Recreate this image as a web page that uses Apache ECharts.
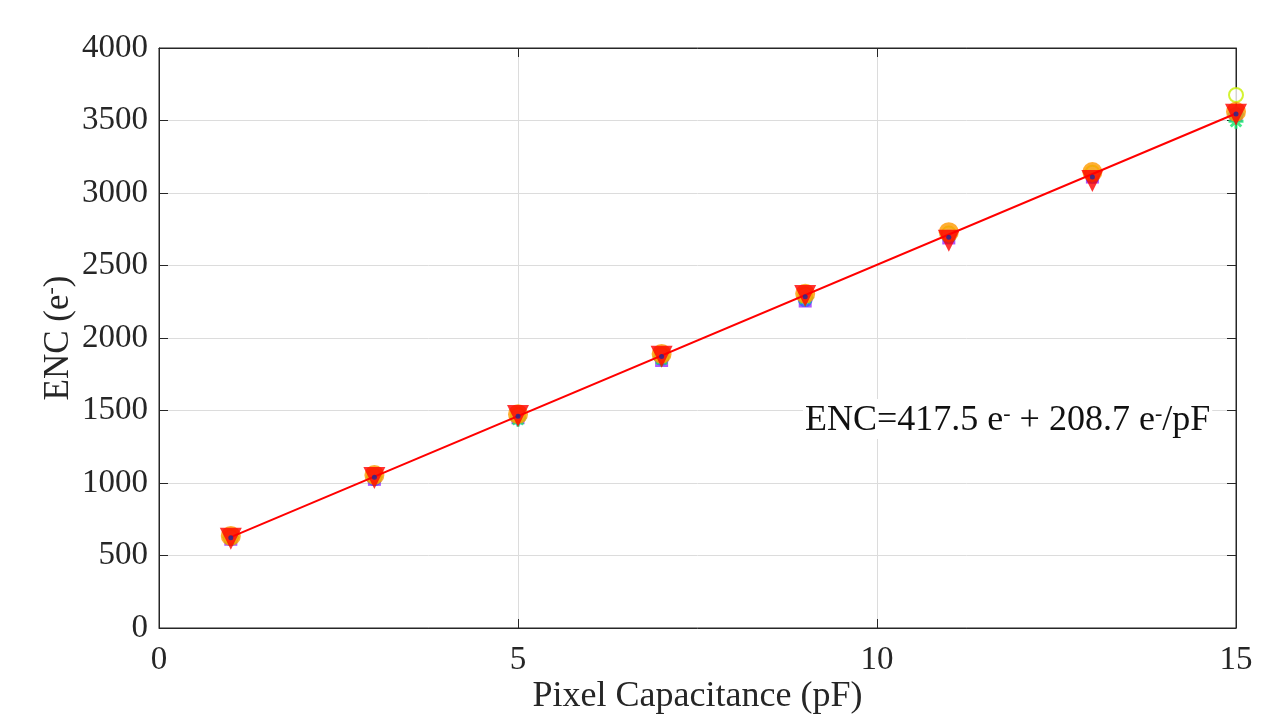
<!DOCTYPE html>
<html>
<head>
<meta charset="utf-8">
<script src="https://cdn.jsdelivr.net/npm/echarts@6/dist/echarts.min.js"></script>
<style>
  html, body { margin: 0; padding: 0; background: #fff; }
  #chart { width: 1285px; height: 718px; }
</style>
</head>
<body>
<div id="chart"></div>
<script>
const capacitance = [1, 3, 5, 7, 9, 11, 13, 15]

// ENC per readout channel (e-)
const encPurple = [612, 1025, 1450, 1845, 2255, 2690, 3110, 3535]
const encBlue = [618, 1030, 1455, 1860, 2265, 2700, 3115, 3540]
const encCyan = [625, 1040, 1448, 1870, 2280, 2712, 3132, 3545]
const encGreen = [620, 1045, 1440, 1855, 2275, 2705, 3125, 3495]
const encLime = [630, 1050, 1470, 1885, 2300, 2720, 3140, 3676]
const encOrange = [635, 1055, 1475, 1890, 2305, 2730, 3145, 3560]
const encRed = [615, 1035, 1462, 1870, 2290, 2670, 3083, 3540]
const encNavy = [622, 1040, 1460, 1872, 2285, 2695, 3110, 3545]

// linear fit end points
const fitX = [1, 15]
const fitY = [626.2, 3548]

const xTicks = [0, 5, 10, 15]
const yTicks = [0, 500, 1000, 1500, 2000, 2500, 3000, 3500, 4000]

const font = '"Liberation Serif", "Times New Roman", serif'
const ink = '#262626'

function pairs(ys) {
  return capacitance.map((x, i) => [x, ys[i]])
}

const asterisk = 'path://M0,-10L0,10M-10,0L10,0M-7,-7L7,7M-7,7L7,-7'

function scatter(name, ys, opts) {
  return Object.assign({
    name,
    type: 'scatter',
    data: pairs(ys),
    symbolSize: 14
  }, opts)
}

// mirrored tick-only axes for the top and right edges of the box
const mirrorTicks = { inside: true, length: 9, lineStyle: { color: ink } }
const mirrorLine = { show: true, onZero: false, lineStyle: { color: ink } }

const chart = echarts.init(document.getElementById('chart'))
chart.setOption({
  animation: false,
  grid: {
    left: 159, right: 49, top: 48, bottom: 90,
    containLabel: false, outerBoundsMode: 'none',
    show: true, borderColor: ink, borderWidth: 1
  },
  xAxis: [{
    type: 'value', min: 0, max: 15, interval: 5,
    name: 'Pixel Capacitance (pF)', nameLocation: 'middle', nameGap: 51,
    nameMoveOverlap: false,
    nameTextStyle: { fontFamily: font, fontSize: 36, color: ink },
    axisLine: { show: true, onZero: false, lineStyle: { color: ink } },
    axisTick: { inside: true, length: 9, lineStyle: { color: ink } },
    axisLabel: {
      fontFamily: font, fontSize: 33, color: ink, margin: 16,
      formatter: v => xTicks.includes(v) ? String(v) : ''
    },
    splitLine: { show: true, lineStyle: { color: '#dcdcdc', width: 1 } }
  }, {
    type: 'value', min: 0, max: 15, interval: 5, position: 'top',
    axisLine: mirrorLine,
    axisTick: mirrorTicks, axisLabel: { show: false }, splitLine: { show: false }
  }],
  yAxis: [{
    type: 'value', min: 0, max: 4000, interval: 500,
    name: 'ENC (e{sup|-})', nameLocation: 'middle', nameGap: 81,
    nameMoveOverlap: false,
    nameTextStyle: {
      fontFamily: font, fontSize: 35, color: ink,
      rich: { sup: { fontFamily: font, fontSize: 22, color: ink, verticalAlign: 'top', padding: [0, 0, 16, 0] } }
    },
    axisLine: { show: true, onZero: false, lineStyle: { color: ink } },
    axisTick: { inside: true, length: 9, lineStyle: { color: ink } },
    axisLabel: {
      fontFamily: font, fontSize: 33, color: ink, margin: 11,
      formatter: v => yTicks.includes(v) ? String(v) : ''
    },
    splitLine: { show: true, lineStyle: { color: '#dcdcdc', width: 1 } }
  }, {
    type: 'value', min: 0, max: 4000, interval: 500, position: 'right',
    axisLine: mirrorLine,
    axisTick: mirrorTicks, axisLabel: { show: false }, splitLine: { show: false }
  }],
  graphic: [{
    type: 'text',
    left: 803, top: 399,
    z: 10,
    style: {
      text: 'ENC=417.5 e{s|-} + 208.7 e{s|-}/pF',
      font: '36px ' + font,
      fill: '#111',
      backgroundColor: '#fff',
      padding: [4, 2, 0, 2],
      rich: {
        s: { font: '22px ' + font, fill: '#111', verticalAlign: 'top', padding: [0, 0, 14, 0] }
      }
    }
  }],
  series: [
    scatter('purple', encPurple, { symbol: 'rect', symbolSize: 13, itemStyle: { color: '#9d2bff' } }),
    scatter('blue', encBlue, { symbol: 'circle', symbolSize: 15, itemStyle: { color: '#3a5cff' } }),
    scatter('cyan', encCyan, { symbol: 'diamond', symbolSize: 18, itemStyle: { color: '#22d3ff' } }),
    scatter('green', encGreen, { symbol: asterisk, symbolSize: 15, itemStyle: { color: 'transparent', borderColor: '#12e86a', borderWidth: 3 } }),
    scatter('lime', encLime, { symbol: 'emptyCircle', symbolSize: 14, itemStyle: { color: '#c8f000', borderColor: '#c8f000', borderWidth: 4 } }),
    scatter('orange', encOrange, { symbol: 'circle', symbolSize: 20, itemStyle: { color: '#ff9a00' } }),
    {
      name: 'fit', type: 'line', data: fitX.map((x, i) => [x, fitY[i]]),
      showSymbol: false, lineStyle: { color: '#ff0000', width: 2 }, z: 3
    },
    scatter('red', encRed, { symbol: 'triangle', symbolRotate: 180, symbolSize: 22, itemStyle: { color: '#ff0000' }, z: 4 }),
    scatter('navy', encNavy, { symbol: 'circle', symbolSize: 5, itemStyle: { color: '#1a2a9a' }, z: 5 })
  ]
})
</script>
</body>
</html>
